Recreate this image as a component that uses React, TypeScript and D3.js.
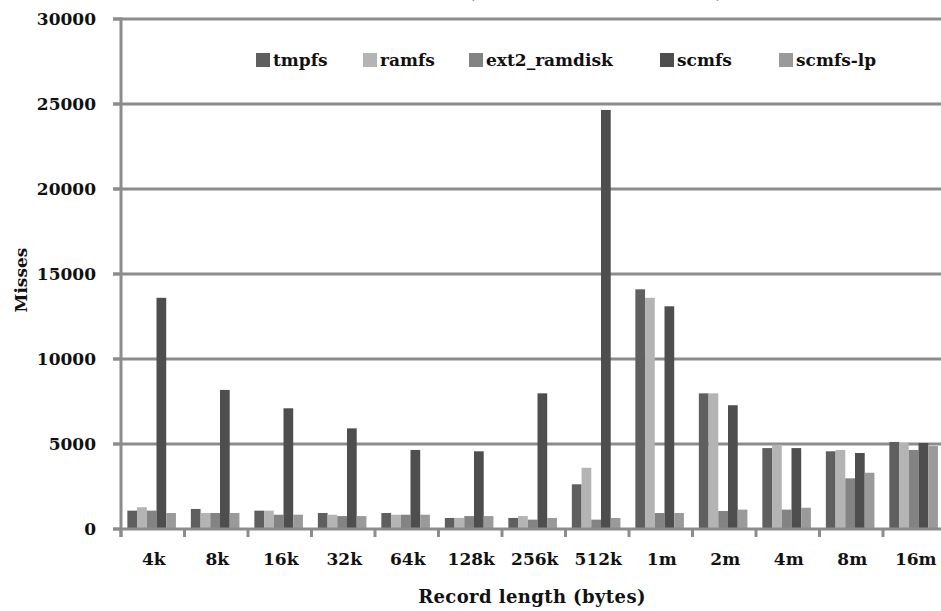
import React from "react";
import * as d3 from "d3";

const categories = ["4k", "8k", "16k", "32k", "64k", "128k", "256k", "512k", "1m", "2m", "4m", "8m", "16m"];
const seriesNames = ["tmpfs", "ramfs", "ext2_ramdisk", "scmfs", "scmfs-lp"];
const tmpfs = [1080, 1180, 1080, 940, 940, 650, 650, 2630, 14100, 7980, 4760, 4570, 5120];
const ramfs = [1280, 940, 1080, 840, 840, 650, 760, 3600, 13600, 7980, 4960, 4650, 5060];
const ext2Ramdisk = [1080, 940, 840, 760, 840, 760, 550, 550, 940, 1060, 1140, 2980, 4650];
const scmfs = [13600, 8180, 7100, 5920, 4650, 4570, 7980, 24650, 13100, 7280, 4760, 4470, 5060];
const scmfsLp = [940, 940, 840, 760, 840, 760, 650, 650, 940, 1140, 1250, 3310, 4880];
const yTicks = [0, 5000, 10000, 15000, 20000, 25000, 30000];
const colors = ["#5f5f5f", "#b4b4b4", "#838383", "#4e4e4e", "#9a9a9a"];

const series = [tmpfs, ramfs, ext2Ramdisk, scmfs, scmfsLp];

const W = 941, H = 611;
const x0 = 121, step = 63.5;
const x = d3.scaleBand<string>().domain(categories).range([x0, x0 + step * categories.length]).padding(0);
const xs = d3.scaleBand<string>().domain(seriesNames).range([step * 0.1, step * 0.865]).padding(0);
const y = d3.scaleLinear().domain([0, 30000]).range([529, 19]);

const gridColor = "#8c8c8c";
const ts = { fontFamily: '"DejaVu Serif", serif', fontWeight: "bold" } as React.CSSProperties;

const legendX = [256, 363, 469, 660, 779];

export default function App() {
  return (
    <svg width={W} height={H} style={{ position: "absolute", left: 0, top: 0, background: "#fff" }}>
      <rect x={0} y={0} width={W} height={H} fill="#fff" />
      <text x={724} y={-2} textAnchor="end" fontSize={17} fill="#111" style={ts}>
        {"L2 Misses (Random Write Test Mode)"}
      </text>
      {yTicks.filter(t => t > 0).map(t => (
        <line key={t} x1={x0 - 8} x2={W} y1={y(t)} y2={y(t)} stroke={gridColor} strokeWidth={3} />
      ))}
      {categories.map((c, i) => (
        <g key={c} transform={`translate(${x(c)},0)`}>
          {series.map((s, j) => (
            <rect key={j} x={xs(seriesNames[j])} width={xs.bandwidth()} y={y(s[i])} height={y(0) - y(s[i]) - 1} fill={colors[j]} />
          ))}
        </g>
      ))}
      <line x1={x0} x2={x0} y1={y(30000) - 1.5} y2={y(0) + 8} stroke={gridColor} strokeWidth={3} />
      <line x1={x0 - 8} x2={W} y1={y(0)} y2={y(0)} stroke={gridColor} strokeWidth={3} />
      {categories.map(c => (
        <line key={c} x1={(x(c) as number)} x2={(x(c) as number)} y1={y(0)} y2={y(0) + 8} stroke={gridColor} strokeWidth={3} />
      ))}
      {yTicks.map(t => (
        <g key={t}>
          <line x1={x0 - 8} x2={x0} y1={y(t)} y2={y(t)} stroke={gridColor} strokeWidth={3} />
          <text x={96} y={y(t) + 6} textAnchor="end" fontSize={17} fill="#111" style={ts}>{t}</text>
        </g>
      ))}
      {categories.map(c => (
        <text key={c} x={(x(c) as number) + step / 2 + 1} y={565} textAnchor="middle" fontSize={17} fill="#111" style={ts}>{c}</text>
      ))}
      <text x={532} y={603} textAnchor="middle" fontSize={18} letterSpacing={0.4} fill="#111" style={ts}>Record length (bytes)</text>
      <text transform={`translate(27,280) rotate(-90)`} textAnchor="middle" fontSize={17} fill="#111" style={ts}>Misses</text>
      {seriesNames.map((n, j) => (
        <g key={n}>
          <rect x={legendX[j]} y={53} width={14} height={14} fill={colors[j]} />
          <text x={legendX[j] + 17} y={66} fontSize={17} fill="#111" style={ts}>{n}</text>
        </g>
      ))}
    </svg>
  );
}
